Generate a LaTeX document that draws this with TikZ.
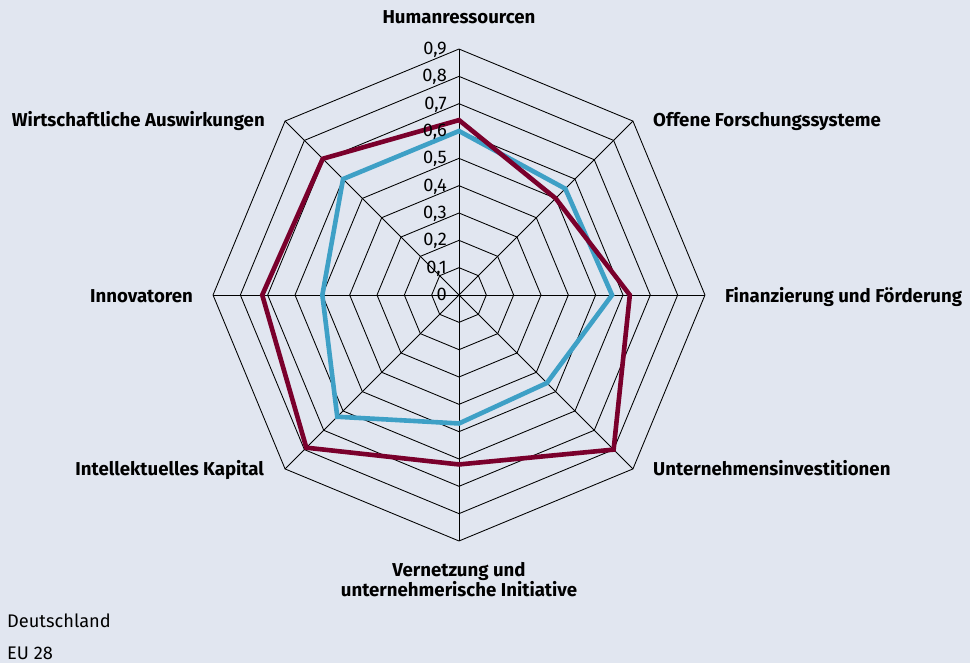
\documentclass[tikz,border=0pt]{standalone}
\usepackage{fontspec}
\setmainfont{Fira Sans}
\usepackage{tikz}

\definecolor{bgblue}{RGB}{225,230,240}
\definecolor{demaroon}{RGB}{122,0,44}
\definecolor{eublue}{RGB}{62,160,198}

\begin{document}
\begin{tikzpicture}[
	web/.style={line width=0.9pt},
	series/.style={line width=4.8pt},
	axislabel/.style={font=\fontsize{19.4}{19}\selectfont\bfseries,inner sep=0pt},
	ticklabel/.style={font=\fontsize{19}{19}\selectfont,inner sep=0pt,anchor=base east},
	legendlabel/.style={font=\fontsize{19}{19}\selectfont,inner sep=0pt,anchor=base west}]
	\fill[bgblue] (-16.795,-13.465) rectangle (18.697,10.794);
	\useasboundingbox (-16.795,-13.465) rectangle (18.697,10.794);

	%rings
	\foreach \r in {1,...,9}
	\draw[web] (0:\r) -- (45:\r) -- (90:\r) -- (135:\r) -- (180:\r) -- (225:\r) -- (270:\r) -- (315:\r) -- cycle;

	%spokes
	\coordinate (o) at (0,0);
	\foreach \a/\n in {90/hum,45/off,0/fin,-45/unt,-90/ver,-135/int,180/inn,135/wir}
	{
	\coordinate (\n) at (\a:9);
	\draw[web] (o)--(\n);
	}

	%EU 28
	\draw[series,eublue] (90:6.0)--(45:5.5)--(0:5.6)--(-45:4.55)--(-90:4.7)--(-135:6.3)--(180:5.0)--(135:6.0)--cycle;
	%Deutschland
	\draw[series,demaroon] (90:6.4)--(45:5.0)--(0:6.25)--(-45:8.0)--(-90:6.2)--(-135:7.9)--(180:7.2)--(135:7.05)--cycle;

	%ticks
	\node[ticklabel] (t0) at (-0.44,-0.2) {0};
	\foreach \v in {1,...,9}
	\node[ticklabel] (t\v) at (-0.44,\v-0.2) {0,\v};

	%labels
	\node[axislabel,anchor=base] (lhum) at (0,9.95) {Humanressourcen};
	\node[axislabel,anchor=base west] (loff) at (7.10,6.15) {Offene Forschungssysteme};
	\node[axislabel,anchor=base west] (lfin) at (9.73,-0.29) {Finanzierung und Förderung};
	\node[axislabel,anchor=base west] (lunt) at (7.10,-6.59) {Unternehmensinvestitionen};
	\node[axislabel,anchor=north,align=center] (lver) at (0,-9.76) {Vernetzung und\\unternehmerische Initiative};
	\node[axislabel,anchor=base east] (lint) at (-7.13,-6.59) {Intellektuelles Kapital};
	\node[axislabel,anchor=base east] (linn) at (-9.73,-0.29) {Innovatoren};
	\node[axislabel,anchor=base east] (lwir) at (-7.10,6.15) {Wirtschaftliche Auswirkungen};
	%
	\node[legendlabel] (lde) at (-16.54,-12.15) {Deutschland};
	\node[legendlabel] (leu) at (-16.54,-13.32) {EU 28};
\end{tikzpicture}
\end{document}
